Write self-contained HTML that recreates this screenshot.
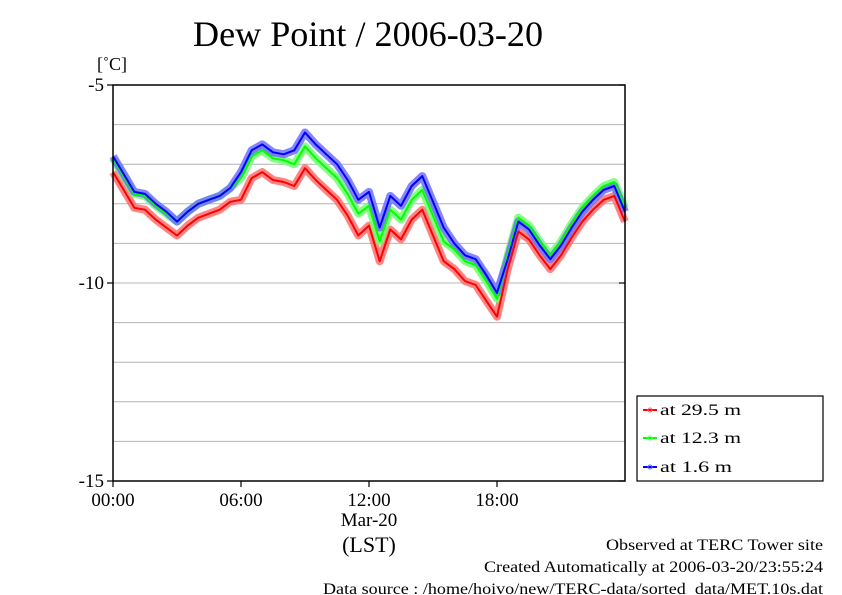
<!DOCTYPE html>
<html><head><meta charset="utf-8"><style>
body{margin:0;background:#fff}
svg{display:block;font-family:"Liberation Serif",serif}
</style></head><body>
<svg id="chart" width="842" height="595" viewBox="0 0 842 595">
<text x="368" y="46" font-size="36" text-anchor="middle" textLength="350" lengthAdjust="spacingAndGlyphs">Dew Point / 2006-03-20</text>
<text x="97" y="70" font-size="18">[˚C]</text>
<g id="grid"></g>
<g id="series"></g>
<g id="axes"></g>
<text x="369" y="526" font-size="19" text-anchor="middle">Mar-20</text>
<text x="369" y="552" font-size="22" text-anchor="middle">(LST)</text>
<g>
<rect x="637" y="396" width="186" height="85" fill="#fff" stroke="#000" stroke-width="1.2"/>
<g><line x1="643" y1="410" x2="657" y2="410" stroke="#f00" stroke-width="2"/><circle cx="650" cy="410" r="2" fill="none" stroke="#f66"/><text x="660" y="415" font-size="16" textLength="81" lengthAdjust="spacingAndGlyphs">at 29.5 m</text></g>
<g><line x1="643" y1="438" x2="657" y2="438" stroke="#0f0" stroke-width="2"/><circle cx="650" cy="438" r="2" fill="none" stroke="#6f6"/><text x="660" y="443" font-size="16" textLength="81" lengthAdjust="spacingAndGlyphs">at 12.3 m</text></g>
<g><line x1="643" y1="467" x2="657" y2="467" stroke="#00f" stroke-width="2"/><circle cx="650" cy="467" r="2" fill="none" stroke="#66f"/><text x="660" y="472" font-size="16" textLength="72" lengthAdjust="spacingAndGlyphs">at 1.6 m</text></g>
</g>
<text x="606" y="550" font-size="16" textLength="217" lengthAdjust="spacingAndGlyphs">Observed at TERC Tower site</text>
<text x="484" y="572" font-size="16" textLength="339" lengthAdjust="spacingAndGlyphs">Created Automatically at 2006-03-20/23:55:24</text>
<text x="323" y="594" font-size="16" textLength="500" lengthAdjust="spacingAndGlyphs">Data source : /home/hoivo/new/TERC-data/sorted_data/MET.10s.dat</text>
</svg>
<script>
const hours = Array.from({length:49},(_,i)=>i*0.5);
const red29 = [-7.2,-7.65,-8.1,-8.15,-8.4,-8.6,-8.8,-8.55,-8.35,-8.25,-8.15,-7.95,-7.9,-7.35,-7.2,-7.4,-7.45,-7.55,-7.1,-7.4,-7.65,-7.9,-8.3,-8.8,-8.55,-9.45,-8.65,-8.9,-8.4,-8.15,-8.8,-9.45,-9.65,-9.95,-10.05,-10.45,-10.85,-9.65,-8.7,-8.9,-9.3,-9.65,-9.3,-8.85,-8.45,-8.15,-7.9,-7.8,-8.45];
const green12 = [-6.85,-7.3,-7.75,-7.8,-8.05,-8.25,-8.45,-8.2,-8.0,-7.9,-7.8,-7.6,-7.35,-6.8,-6.65,-6.85,-6.9,-7.0,-6.55,-6.85,-7.1,-7.35,-7.75,-8.25,-8.05,-8.95,-8.15,-8.4,-7.9,-7.65,-8.3,-8.95,-9.15,-9.45,-9.55,-9.95,-10.4,-9.3,-8.35,-8.55,-8.95,-9.3,-8.95,-8.5,-8.1,-7.8,-7.55,-7.45,-8.1];
const blue16 = [-6.8,-7.25,-7.7,-7.75,-8.0,-8.2,-8.45,-8.2,-8.0,-7.9,-7.8,-7.6,-7.2,-6.65,-6.5,-6.7,-6.75,-6.65,-6.2,-6.5,-6.75,-7.0,-7.4,-7.9,-7.7,-8.6,-7.8,-8.05,-7.55,-7.3,-7.95,-8.6,-9.0,-9.3,-9.4,-9.8,-10.25,-9.4,-8.45,-8.65,-9.05,-9.4,-9.05,-8.6,-8.2,-7.9,-7.65,-7.55,-8.2];
const yTicks = [-5,-10,-15];
const xTickHours = [0,6,12,18];
const xTickLabels = ["00:00","06:00","12:00","18:00"];

const X0=113,X1=625,Y0=85,Y1=481;
const xs=h=>X0+(X1-X0)*h/24;
const ys=v=>Y0+(Y1-Y0)*(-5-v)/10;
const NS="http://www.w3.org/2000/svg";
function mk(tag,attrs,parent){const e=document.createElementNS(NS,tag);for(const k in attrs)e.setAttribute(k,attrs[k]);parent.appendChild(e);return e;}

const grid=document.getElementById('grid');
for(let v=-6;v>=-14;v--){
  const l=mk('line',{x1:X0,x2:X1,y1:ys(v),y2:ys(v),stroke:'#b4b4b4','stroke-width':1},grid);
  
  
}
const axes=document.getElementById('axes');
const fr=mk('rect',{x:X0,y:Y0,width:X1-X0,height:Y1-Y0,fill:'none',stroke:'#000','stroke-width':1.5},axes);


yTicks.forEach(v=>{
  mk('line',{x1:X0-6,x2:X0,y1:ys(v),y2:ys(v),stroke:'#000','stroke-width':1.2},axes);
  mk('line',{x1:X1,x2:X1-6,y1:ys(v),y2:ys(v),stroke:'#000','stroke-width':1.2},axes);
  const t=mk('text',{x:X0-9,y:ys(v)+6,'font-size':19,'text-anchor':'end'},axes);
  t.textContent=String(v);
  
  
});
xTickHours.forEach((h,i)=>{
  mk('line',{x1:xs(h),x2:xs(h),y1:Y1,y2:Y1+6,stroke:'#000','stroke-width':1.2},axes);
  const t=mk('text',{x:xs(h),y:Y1+25,'font-size':19,'text-anchor':'middle'},axes);
  t.textContent=xTickLabels[i];
  
  
});

const ser=document.getElementById('series');
const defs=[[red29,'#ff7070','#f00','series-29-5m'],[green12,'#70ff70','#0f0','series-12-3m'],[blue16,'#7070ff','#00f','series-1-6m']];
defs.forEach(([d,light,col,name])=>{
  const pts=d.map((v,i)=>xs(hours[i]).toFixed(1)+','+ys(v).toFixed(1)).join(' ');
  const b=mk('polyline',{points:pts,fill:'none',stroke:light,'stroke-width':8,'stroke-linejoin':'round','opacity':0.85},ser);
  
  
});
defs.forEach(([d,light,col,name])=>{
  const pts=d.map((v,i)=>xs(hours[i]).toFixed(1)+','+ys(v).toFixed(1)).join(' ');
  const l=mk('polyline',{points:pts,fill:'none',stroke:col,'stroke-width':2,'stroke-linejoin':'round'},ser);
  
  
});
</script>
</body></html>
